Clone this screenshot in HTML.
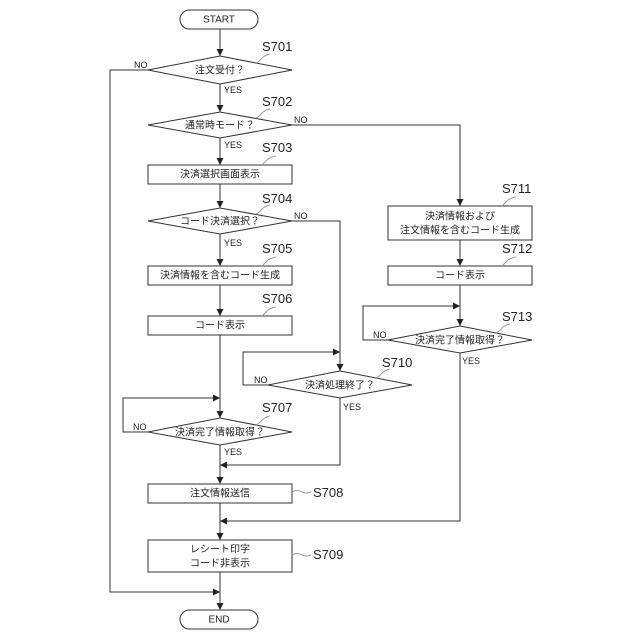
<!DOCTYPE html>
<html><head><meta charset="utf-8"><style>
html,body{margin:0;padding:0;background:#fff;}
svg{display:block;}
text{font-family:"Liberation Sans","Noto Sans CJK JP",sans-serif;fill:#222;}
.t{font-size:10px;text-anchor:middle;dominant-baseline:middle;}
.s{font-size:13px;}
.y{font-size:9px;}
</style></head><body>
<svg width="640" height="640" viewBox="0 0 640 640">
<defs><marker id="a" markerWidth="8" markerHeight="8" refX="7" refY="4" orient="auto" markerUnits="userSpaceOnUse"><path d="M0,0.5 L7,4 L0,7.5z" fill="#222"/></marker></defs>
<g fill="none" stroke="#333" stroke-width="1">
<!-- main vertical -->
<line x1="220" y1="29" x2="220" y2="56" marker-end="url(#a)"/>
<line x1="220" y1="84" x2="220" y2="112" marker-end="url(#a)"/>
<line x1="220" y1="138" x2="220" y2="165" marker-end="url(#a)"/>
<line x1="220" y1="184" x2="220" y2="208" marker-end="url(#a)"/>
<line x1="220" y1="234" x2="220" y2="266" marker-end="url(#a)"/>
<line x1="220" y1="285" x2="220" y2="316" marker-end="url(#a)"/>
<line x1="220" y1="335" x2="220" y2="418" marker-end="url(#a)"/>
<line x1="220" y1="445" x2="220" y2="484" marker-end="url(#a)"/>
<line x1="220" y1="503" x2="220" y2="540" marker-end="url(#a)"/>
<line x1="220" y1="572" x2="220" y2="610" marker-end="url(#a)"/>
<!-- S701 NO -->
<polyline points="148,70 110,70 110,592 220,592" marker-end="url(#a)"/>
<!-- S702 NO -->
<polyline points="292,125 460,125 460,206" marker-end="url(#a)"/>
<line x1="460" y1="240" x2="460" y2="266" marker-end="url(#a)"/>
<line x1="460" y1="285" x2="460" y2="326" marker-end="url(#a)"/>
<!-- S713 NO loop -->
<polyline points="388,340 363,340 363,306 460,306" marker-end="url(#a)"/>
<!-- S713 YES -->
<polyline points="460,353 460,521 220,521" marker-end="url(#a)"/>
<!-- S704 NO -->
<polyline points="292,221 340,221 340,371" marker-end="url(#a)"/>
<!-- S710 NO loop -->
<polyline points="268,385 243,385 243,352 340,352" marker-end="url(#a)"/>
<!-- S710 YES -->
<polyline points="340,398 340,465 220,465" marker-end="url(#a)"/>
<!-- S707 NO loop -->
<polyline points="148,432 123,432 123,398 220,398" marker-end="url(#a)"/>
<!-- shapes -->
<rect x="180" y="10" width="78" height="19" rx="9.5" fill="#fff"/>
<rect x="180" y="610" width="78" height="19" rx="9.5" fill="#fff"/>
<polygon points="148,70 220,56 292,70 220,84" fill="#fff"/>
<polygon points="148,125 220,112 292,125 220,138" fill="#fff"/>
<rect x="148" y="165" width="144" height="19" fill="#fff"/>
<polygon points="148,221 220,208 292,221 220,234" fill="#fff"/>
<rect x="148" y="266" width="144" height="19" fill="#fff"/>
<rect x="148" y="316" width="144" height="19" fill="#fff"/>
<polygon points="268,385 340,371 412,385 340,398" fill="#fff"/>
<polygon points="148,432 220,418 292,432 220,445" fill="#fff"/>
<rect x="148" y="484" width="144" height="19" fill="#fff"/>
<rect x="148" y="540" width="144" height="32" fill="#fff"/>
<rect x="388" y="206" width="144" height="34" fill="#fff"/>
<rect x="388" y="266" width="144" height="19" fill="#fff"/>
<polygon points="388,340 460,326 532,340 460,353" fill="#fff"/>
<!-- leaders -->
<g stroke="#999">
<path d="M256,63 q4,-2 6,-5 q3,-3 8,-4"/>
<path d="M256,118 q4,-2 6,-5 q3,-3 8,-4"/>
<path d="M262,165 q3,-3 6,-6 q3,-2 8,-3"/>
<path d="M256,214 q4,-2 6,-5 q3,-3 8,-4"/>
<path d="M262,266 q3,-3 6,-6 q3,-2 8,-3"/>
<path d="M262,316 q3,-3 6,-6 q3,-2 8,-3"/>
<path d="M376,378 q4,-2 6,-5 q3,-3 8,-4"/>
<path d="M256,425 q4,-2 6,-5 q3,-3 8,-4"/>
<path d="M292,492 q5,-3 10,0 q4,2 9,0"/>
<path d="M292,555 q5,-3 10,0 q4,2 9,0"/>
<path d="M502,206 q3,-3 6,-6 q3,-2 8,-3"/>
<path d="M502,266 q3,-3 6,-6 q3,-2 8,-3"/>
<path d="M496,333 q4,-2 6,-5 q3,-3 8,-4"/>
</g>
</g>
<text class="t" x="219" y="20">START</text>
<text class="t" x="219" y="620">END</text>
<text class="t" x="220" y="71">注文受付？</text>
<text class="t" x="220" y="126">通常時モード？</text>
<text class="t" x="220" y="175">決済選択画面表示</text>
<text class="t" x="220" y="222">コード決済選択？</text>
<text class="t" x="220" y="276">決済情報を含むコード生成</text>
<text class="t" x="220" y="326">コード表示</text>
<text class="t" x="340" y="386">決済処理終了？</text>
<text class="t" x="220" y="433">決済完了情報取得？</text>
<text class="t" x="220" y="494">注文情報送信</text>
<text class="t" x="220" y="550">レシート印字</text>
<text class="t" x="220" y="564">コード非表示</text>
<text class="t" x="460" y="217">決済情報および</text>
<text class="t" x="460" y="231">注文情報を含むコード生成</text>
<text class="t" x="460" y="276">コード表示</text>
<text class="t" x="460" y="341">決済完了情報取得？</text>
<text class="s" x="262" y="51">S701</text>
<text class="s" x="262" y="106">S702</text>
<text class="s" x="262" y="152">S703</text>
<text class="s" x="262" y="203">S704</text>
<text class="s" x="262" y="253">S705</text>
<text class="s" x="262" y="303">S706</text>
<text class="s" x="382" y="367">S710</text>
<text class="s" x="262" y="412">S707</text>
<text class="s" x="313" y="497">S708</text>
<text class="s" x="313" y="559">S709</text>
<text class="s" x="502" y="193">S711</text>
<text class="s" x="502" y="253">S712</text>
<text class="s" x="502" y="321">S713</text>
<text class="y" x="134" y="68">NO</text>
<text class="y" x="224" y="93">YES</text>
<text class="y" x="294" y="123">NO</text>
<text class="y" x="224" y="148">YES</text>
<text class="y" x="294" y="219">NO</text>
<text class="y" x="224" y="246">YES</text>
<text class="y" x="254" y="383">NO</text>
<text class="y" x="343" y="410">YES</text>
<text class="y" x="133" y="430">NO</text>
<text class="y" x="224" y="455">YES</text>
<text class="y" x="373" y="338">NO</text>
<text class="y" x="462" y="364">YES</text>
</svg>
</body></html>
